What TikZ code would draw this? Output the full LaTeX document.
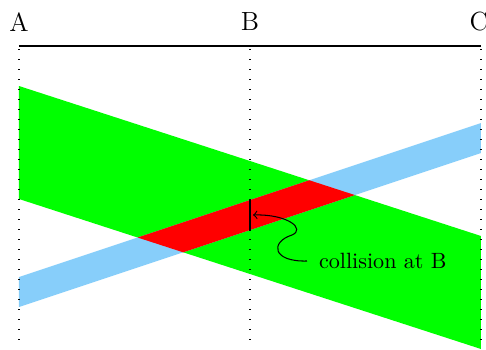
\documentclass[tikz,border=0pt]{standalone}
\definecolor{bandgreen}{HTML}{00FF00}
\definecolor{bandblue}{HTML}{87CEFA}
\definecolor{bandred}{HTML}{FF0000}
\tikzset{
  guide/.style={line width=0.55pt, dash pattern=on 0.55pt off 3.75pt},
  axisline/.style={line width=0.45pt},
  marker/.style={line width=1pt},
  lbl/.style={inner sep=0pt, font=\fontsize{11.3}{13}\selectfont},
  note/.style={inner xsep=5pt, inner ysep=0pt, font=\fontsize{9.5}{11}\selectfont},
}
\begin{document}
\begin{tikzpicture}[x=0.43pt,y=-0.43pt]
\useasboundingbox (0,0) rectangle (486,349);
% bands
\fill[bandgreen] (19,86) -- (481,236) -- (481,349) -- (19,199) -- cycle;
\fill[bandblue] (19,277) -- (481,123) -- (481,153) -- (19,307) -- cycle;
\begin{scope}
  \clip (19,86) -- (481,236) -- (481,349) -- (19,199) -- cycle;
  \fill[bandred] (19,277) -- (481,123) -- (481,153) -- (19,307) -- cycle;
\end{scope}
% axis
\coordinate (a0) at (19,46);
\coordinate (c0) at (481,46);
\draw[axisline] (a0) -- (c0);
\coordinate (at) at (19,49);  \coordinate (ab) at (19,340);
\coordinate (bt) at (250,49); \coordinate (bb) at (250,340);
\coordinate (ct) at (481,49); \coordinate (cb) at (481,340);
\draw[guide] (at) -- (ab);
\draw[guide] (bt) -- (bb);
\draw[guide] (ct) -- (cb);
\node[lbl] (A) at (19,22) {A};
\node[lbl] (B) at (250,22) {B};
\node[lbl] (C) at (479,22) {C};
% collision marker
\coordinate (m1) at (250,200);
\coordinate (m2) at (250,231);
\draw[marker] (m1) -- (m2);
\coordinate (tip) at (253,215);
\node[note, anchor=west] (col) at (307,261) {collision at B};
\draw[->, line width=0.45pt] (col.west) .. controls (272,262) and (270,242) .. (292,235)
  .. controls (306,229) and (288,214) .. (tip);
\end{tikzpicture}
\end{document}
